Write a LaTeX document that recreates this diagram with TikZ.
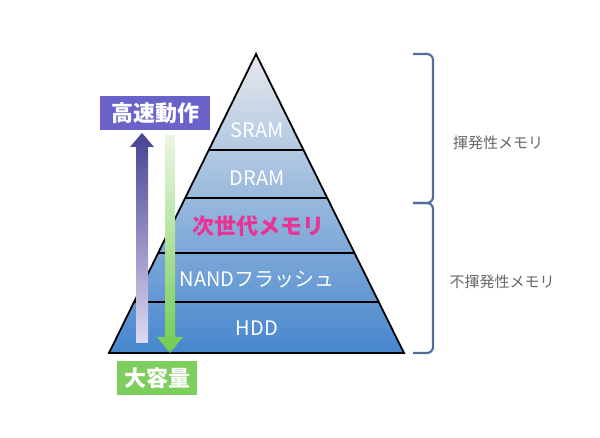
\documentclass[tikz,border=0pt]{standalone}
\usepackage{fontspec}
\setmainfont{Noto Sans CJK JP}
\usetikzlibrary{calc, positioning}

\definecolor{fastblue}{RGB}{106,98,200}
\definecolor{biggreen}{RGB}{125,206,92}
\definecolor{bracecol}{RGB}{80,110,155}
\definecolor{nextpink}{RGB}{232,52,150}
\definecolor{pyrtop}{RGB}{230,232,236}
\definecolor{pyrmid}{RGB}{168,192,222}
\definecolor{pyrbot}{RGB}{70,134,206}

\tikzset{
    layer/.style={text=white, font=\fontsize{10}{12}\selectfont},
    tagbox/.style={text=white, font=\bfseries\fontsize{11}{13}\selectfont,
        inner sep=0pt, minimum height=17pt},
    side/.style={text=black!60, font=\fontsize{7.5}{9}\selectfont},
    brace/.style={draw=bracecol, line width=1.1pt, rounded corners=3pt},
}

\begin{document}
\begin{tikzpicture}[x=0.5pt, y=-0.5pt]
    \useasboundingbox (0,0) rectangle (600,438);

    % pyramid
    \coordinate (apex) at (256,54);
    \coordinate (bl)   at (109,353);
    \coordinate (br)   at (404,353);
    \shade[top color=pyrtop, middle color=pyrmid, bottom color=pyrbot]
        (apex) -- (br) -- (bl) -- cycle;
    \foreach\t in {0.321,0.482,0.666,0.829}
    {
        \draw[line width=0.9pt] ($(apex)!\t!(bl)$) -- ($(apex)!\t!(br)$);
    }
    \draw[line width=0.9pt, line join=miter] (apex) -- (br) -- (bl) -- cycle;

    \node[layer]                          (sram) at (257,130) {SRAM};
    \node[layer]                          (dram) at (257,178) {DRAM};
    \node[layer, text=nextpink, font=\bfseries\fontsize{11}{13}\selectfont]
                                          (next) at (258,226) {次世代メモリ};
    \node[layer]                          (nand) at (257,280) {NANDフラッシュ};
    \node[layer]                          (hdd)  at (257,328) {HDD};

    % speed / capacity
    \node[tagbox, fill=fastblue, minimum width=55pt]  (fast) at (155,113) {高速動作};
    \node[tagbox, fill=biggreen, minimum width=40pt]  (big)  at (157,378) {大容量};

    \shade[top color={rgb,255:red,70;green,66;blue,146},
           middle color={rgb,255:red,150;green,140;blue,212},
           bottom color={rgb,255:red,222;green,218;blue,242}]
        (136,343) -- (136,147) -- (130,147) -- (142,133) -- (154,147)
        -- (148,147) -- (148,343) -- cycle;
    \shade[top color={rgb,255:red,236;green,246;blue,228},
           bottom color={rgb,255:red,112;green,204;blue,80}]
        (165,135) -- (165,337) -- (157,337) -- (170,353) -- (183,337)
        -- (175,337) -- (175,135) -- cycle;

    % braces
    \draw[brace] (413,54) -- (433,54) -- (433,203) -- (413,203);
    \draw[brace] (413,203) -- (433,203) -- (433,353) -- (413,353);
    \node[side] (vol)    at (498,143) {揮発性メモリ};
    \node[side] (nonvol) at (502,282) {不揮発性メモリ};
\end{tikzpicture}
\end{document}
